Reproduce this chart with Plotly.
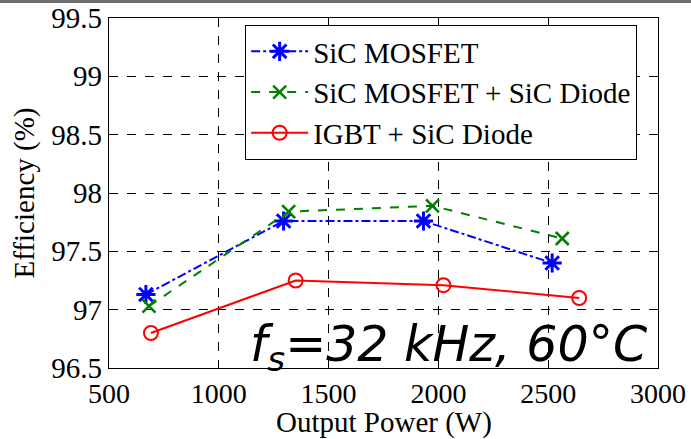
import plotly.graph_objects as go

# Data
mosfet_x = [668, 1295, 1932, 2518]
mosfet_y = [97.13, 97.76, 97.76, 97.40]
mosfet_diode_x = [682, 1318, 1973, 2564]
mosfet_diode_y = [97.03, 97.84, 97.89, 97.61]
igbt_diode_x = [691, 1350, 2023, 2641]
igbt_diode_y = [96.80, 97.25, 97.21, 97.10]

x_ticks = [500, 1000, 1500, 2000, 2500, 3000]
y_ticks = [96.5, 97, 97.5, 98, 98.5, 99, 99.5]
y_tick_labels = ["96.5", "97", "97.5", "98", "98.5", "99", "99.5"]

serif = "Liberation Serif"

fig = go.Figure()
fig.add_trace(go.Scatter(
    x=mosfet_x, y=mosfet_y, mode="lines+markers", name="SiC MOSFET",
    line=dict(color="#0000ff", width=2, dash="dashdot"),
    marker=dict(symbol="asterisk-open", size=16, color="#0000ff",
                line=dict(color="#0000ff", width=3)),
))
fig.add_trace(go.Scatter(
    x=mosfet_diode_x, y=mosfet_diode_y, mode="lines+markers",
    name="SiC MOSFET + SiC Diode",
    line=dict(color="#008000", width=2, dash="dash"),
    marker=dict(symbol="x-thin-open", size=13, color="#008000",
                line=dict(color="#008000", width=2.5)),
))
fig.add_trace(go.Scatter(
    x=igbt_diode_x, y=igbt_diode_y, mode="lines+markers",
    name="IGBT + SiC Diode",
    line=dict(color="#ff0000", width=2, dash="solid"),
    marker=dict(symbol="circle-open", size=14, color="#ff0000",
                line=dict(color="#ff0000", width=2)),
))

axis_common = dict(
    showline=True, linecolor="black", linewidth=1.2, mirror="ticks",
    ticks="inside", ticklen=6, tickcolor="black",
    showgrid=True, gridcolor="black", gridwidth=1, griddash="dash",
    zeroline=False, automargin=False,
)

fig.update_layout(
    width=691, height=439,
    margin=dict(l=109, r=33, t=18, b=71),
    paper_bgcolor="white", plot_bgcolor="white",
    showlegend=True,
    legend=dict(
        x=0.248, y=0.98, xanchor="left", yanchor="top",
        bgcolor="white", bordercolor="black", borderwidth=1,
        font=dict(family=serif, size=29, color="black"),
        tracegroupgap=0, itemwidth=57,
    ),
    xaxis=dict(
        range=[500, 3000], tickvals=x_ticks, ticktext=[str(v) for v in x_ticks],
        tickfont=dict(family=serif, size=28, color="black"),
        **axis_common,
    ),
    yaxis=dict(
        range=[96.5, 99.5], tickvals=y_ticks, ticktext=y_tick_labels,
        tickfont=dict(family=serif, size=29, color="black"),
        title=dict(text="Efficiency (%)", font=dict(family=serif, size=29, color="black"),
                   standoff=8),
        **axis_common,
    ),
    annotations=[
        dict(
            xref="paper", yref="paper", x=0.985, y=-0.038, xanchor="right", yanchor="bottom",
            text="<i>f<sub>s</sub>=32 kHz, 60°C</i>", showarrow=False,
            font=dict(family="DejaVu Sans", size=49, color="black"),
            bgcolor="rgba(0,0,0,0)",
        ),
        dict(
            xref="paper", yref="paper", x=0.5, y=(368 - 440) / 350,
            xanchor="center", yanchor="bottom",
            text="Output Power (W)", showarrow=False,
            font=dict(family=serif, size=29, color="black"),
            borderpad=0,
        ),
    ],
    shapes=[dict(
        type="rect", xref="paper", yref="paper",
        x0=-109 / 549, x1=(691 - 109) / 549, y0=(368 - 3) / 350, y1=368 / 350,
        fillcolor="#6e6e6e", line=dict(width=0), layer="above",
    )],
)

fig.write_html(
    "out.html",
    config={"displayModeBar": False},
    post_script="document.body.style.margin='0';document.body.style.overflow='hidden';",
)
